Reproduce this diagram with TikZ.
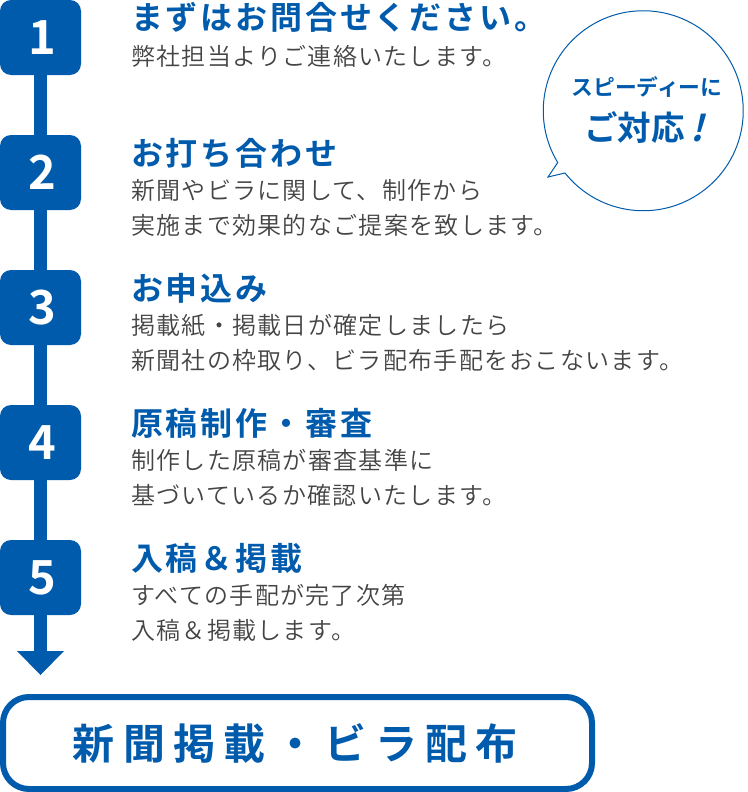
\documentclass[tikz,border=0pt]{standalone}
\usepackage{fontspec}
\setmainfont{Noto Sans CJK JP}
\newfontfamily\bodyf[LetterSpace=5.4]{Noto Sans CJK JP DemiLight}
\newfontfamily\headf[LetterSpace=8.8]{Noto Sans CJK JP Bold}
\newfontfamily\finf[LetterSpace=20]{Noto Sans CJK JP Bold}
\newfontfamily\subf{Noto Sans CJK JP Bold}
\newfontfamily\slantf[FakeSlant=0.25]{Noto Sans CJK JP Bold}
\definecolor{brand}{HTML}{005BAC}
\definecolor{bodytxt}{HTML}{444444}
\begin{document}
\begin{tikzpicture}[x=1pt,y=-1pt,
  stepbox/.style={fill=brand,rounded corners=11pt,minimum width=81pt,minimum height=75pt,inner sep=0,text=white,font=\subf\fontsize{47}{47}\selectfont,execute at begin node=\hspace*{3.5pt}},
  headtxt/.style={anchor=west,text=brand,inner sep=0,font=\headf\fontsize{32}{32}\selectfont},
  bodytx/.style={anchor=west,text=bodytxt,inner sep=0,font=\bodyf\fontsize{24}{24}\selectfont},
]
\useasboundingbox (0,0) rectangle (747,792);
\coordinate (lineTop) at (40.5,30);
\coordinate (lineEnd) at (40.5,655);
\draw[brand,line width=13pt] (lineTop) -- (lineEnd);
\fill[brand] (17,651) -- (64,651) -- (40.5,675) -- cycle;
\node[stepbox] (s1) at (40.5,37.5) {1};
\node[stepbox] (s2) at (40.5,172.5) {2};
\node[stepbox] (s3) at (40.5,307.5) {3};
\node[stepbox] (s4) at (40.5,442.5) {4};
\node[stepbox] (s5) at (40.5,577.5) {5};
\node[headtxt] (h1) at (131,17.5) {まずはお問合せください。};
\node[bodytx] (b1) at (131,56.5) {弊社担当よりご連絡いたします。};
\node[headtxt] (h2) at (131,153.5) {お打ち合わせ};
\node[bodytx] (b2a) at (131,190.5) {新聞やビラに関して、制作から};
\node[bodytx] (b2b) at (131,225.5) {実施まで効果的なご提案を致します。};
\node[headtxt] (h3) at (131,288.5) {お申込み};
\node[bodytx] (b3a) at (131,325.5) {掲載紙・掲載日が確定しましたら};
\node[bodytx] (b3b) at (131,360.5) {新聞社の枠取り、ビラ配布手配をおこないます。};
\node[headtxt] (h4) at (131,423.5) {原稿制作・審査};
\node[bodytx] (b4a) at (131,460.5) {制作した原稿が審査基準に};
\node[bodytx] (b4b) at (131,495.5) {基づいているか確認いたします。};
\node[headtxt] (h5) at (131,558.5) {入稿＆掲載};
\node[bodytx] (b5a) at (131,595.5) {すべての手配が完了次第};
\node[bodytx] (b5b) at (131,630.5) {入稿＆掲載します。};
\draw[brand,line width=1pt,fill=white] (565,173) arc[start angle=218.5,end angle=571.2,radius=100pt] -- (548,177) -- cycle;
\node[text=brand,inner sep=0,font=\subf\fontsize{21.8}{22}\selectfont] (sp1) at (647,87) {スピーディーに};
\node[text=brand,inner sep=0,anchor=west,font=\subf\fontsize{33.5}{34}\selectfont] (sp2) at (584,128) {ご対応};
\node[text=brand,inner sep=0,anchor=west,font=\slantf\fontsize{36}{36}\selectfont] (sp3) at (690,128) {!};
\draw[brand,line width=6pt,fill=white,rounded corners=26pt] (3,697) rectangle (592,789);
\node[text=brand,inner sep=0,anchor=west,font=\finf\fontsize{42}{42}\selectfont] (fin) at (72.5,743) {新聞掲載・ビラ配布};
\end{tikzpicture}
\end{document}
